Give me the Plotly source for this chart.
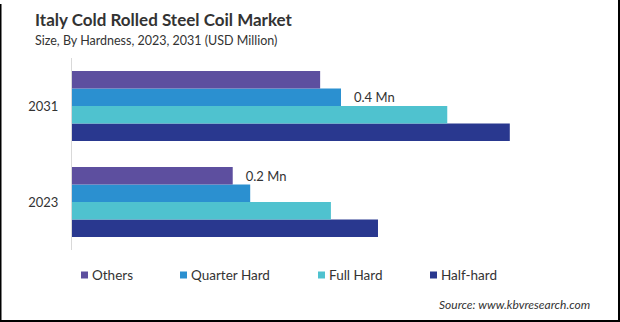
import plotly.graph_objects as go

years = ["2023", "2031"]
segments = ["Others", "Quarter Hard", "Full Hard", "Half-hard"]
colors = ["#5D4F9F", "#2B90D0", "#4FC2CF", "#29388F"]
values = {
    "Others":       [0.239, 0.369],
    "Quarter Hard": [0.265, 0.400],
    "Full Hard":    [0.385, 0.558],
    "Half-hard":    [0.455, 0.651],
}
labels = {
    "Others":       ["\u00a0\u00a0\u00a00.2 Mn", ""],
    "Quarter Hard": ["", "\u00a0\u00a0\u00a00.4 Mn"],
    "Full Hard":    ["", ""],
    "Half-hard":    ["", ""],
}
legend_x = [81, 180, 318, 430]  # pixel x of legend swatches

W, H = 620, 322
ML, MR, MT, MB = 72, 30, 58, 72
PW, PH = W - ML - MR, H - MT - MB

def px_x(p):
    return (p - ML) / PW

def px_y(p):
    return (H - MB - p) / PH

fig = go.Figure()
# add in reverse so "Others" sits on top within each group
for i in reversed(range(len(segments))):
    s = segments[i]
    fig.add_trace(go.Bar(
        y=years, x=values[s], name=s, orientation="h",
        marker=dict(color=colors[i], line=dict(width=0)),
        text=labels[s], textposition="outside",
        textfont=dict(size=13, color="#333333", family="Lato"),
        cliponaxis=False, showlegend=False,
    ))

annotations = [
    dict(text="<b>Italy Cold Rolled Steel Coil Market</b>", xref="paper", yref="paper",
         x=px_x(33), y=px_y(19), xanchor="left", yanchor="middle", showarrow=False,
         font=dict(size=17, color="#333333", family="Lato")),
    dict(text="Size, By Hardness, 2023, 2031 (USD Million)", xref="paper", yref="paper",
         x=px_x(33), y=px_y(41), xanchor="left", yanchor="middle", showarrow=False,
         font=dict(size=12.5, color="#333333", family="Lato")),
    dict(text="<i>Source: www.kbvresearch.com</i>", xref="paper", yref="paper",
         x=px_x(592), y=px_y(304), xanchor="right", yanchor="middle", showarrow=False,
         font=dict(size=12, color="#333333", family="Lato")),
]
shapes = [
    dict(type="line", xref="paper", yref="paper", x0=px_x(0.75), x1=px_x(0.75),
         y0=px_y(4), y1=px_y(322), line=dict(color="black", width=1.5)),
    dict(type="line", xref="paper", yref="paper", x0=px_x(619), x1=px_x(619),
         y0=px_y(0), y1=px_y(322), line=dict(color="black", width=2)),
    dict(type="line", xref="paper", yref="paper", x0=px_x(0), x1=px_x(620),
         y0=px_y(321), y1=px_y(321), line=dict(color="black", width=2)),
]
for s, c, lx in zip(segments, colors, legend_x):
    shapes.append(dict(type="rect", xref="paper", yref="paper",
                       x0=px_x(lx), x1=px_x(lx + 7), y0=px_y(278.5), y1=px_y(271.5),
                       fillcolor=c, line=dict(width=0)))
    annotations.append(dict(text=s, xref="paper", yref="paper",
                            x=px_x(lx + 9), y=px_y(275), xanchor="left", yanchor="middle",
                            showarrow=False,
                            font=dict(size=13.5, color="#333333", family="Lato")))

fig.update_layout(
    width=W, height=H,
    margin=dict(l=ML, r=MR, t=MT, b=MB),
    paper_bgcolor="white", plot_bgcolor="white",
    barmode="group", bargap=0.27, bargroupgap=0,
    font=dict(family="Lato", color="#333333"),
    xaxis=dict(range=[0, PW / 672.5], visible=False, fixedrange=True),
    yaxis=dict(categoryorder="array", categoryarray=years,
               showline=True, linecolor="#D9D9D9", linewidth=1,
               showgrid=False, ticks="", ticklabelstandoff=10,
               tickfont=dict(size=13, color="#333333", family="Lato")),
    showlegend=False,
    annotations=annotations,
    shapes=shapes,
)

fig.write_html("out.html")
